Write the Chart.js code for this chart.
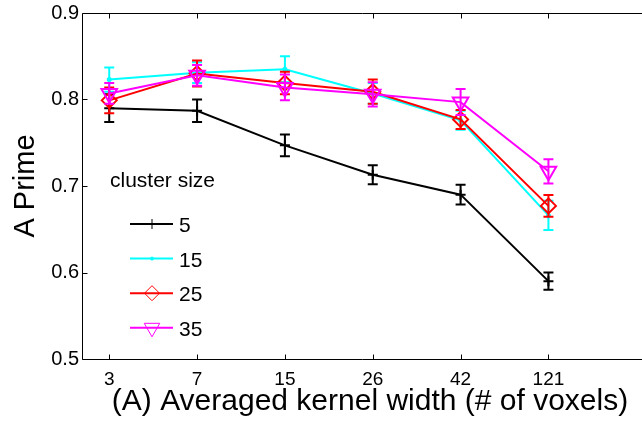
<!DOCTYPE html>
<html>
<head>
<meta charset="utf-8">
<script src="https://cdn.jsdelivr.net/npm/chart.js@4.4.1/dist/chart.umd.min.js"></script>
<style>
html, body { margin: 0; padding: 0; background: #fff; }
</style>
</head>
<body>
<canvas id="myChart" width="642" height="424"></canvas>
<script>
var kernel_labels = ['3', '7', '15', '26', '42', '121'];
var cluster_sizes = ['5', '15', '25', '35'];
var series_colors = ['#000000', '#00ffff', '#ff0000', '#ff00ff'];
var x_title = '(A) Averaged kernel width (# of voxels)';

var aprime_5 = [0.790, 0.787, 0.747, 0.713, 0.690, 0.590];
var err_5 = [0.016, 0.013, 0.0125, 0.011, 0.0115, 0.010];
var aprime_15 = [0.823, 0.831, 0.835, 0.807, 0.776, 0.666];
var err_15 = [0.014, 0.012, 0.015, 0.012, 0.011, 0.017];
var aprime_25 = [0.799, 0.830, 0.819, 0.809, 0.777, 0.677];
var err_25 = [0.015, 0.015, 0.013, 0.014, 0.011, 0.0125];
var aprime_35 = [0.807, 0.828, 0.814, 0.806, 0.797, 0.717];
var err_35 = [0.012, 0.012, 0.015, 0.014, 0.015, 0.014];

var y_ticks = [0.5, 0.6, 0.7, 0.8, 0.9];

var FONT = "'Liberation Sans', Arial, Helvetica, sans-serif";

function toPoints(vals) {
    return vals.map(function (v, i) { return { x: i + 1, y: v }; });
}

// frame with inward ticks, matlab style (no right edge, plot runs off the canvas)
const framePlugin = {
    id: 'frame',
    beforeDatasetsDraw(chart) {
        const { ctx, chartArea: a, scales: { x, y } } = chart;
        const L = Math.round(a.left) + 0.5, B = Math.round(a.bottom) + 0.5, T = Math.round(a.top) + 0.5;
        ctx.save();
        ctx.strokeStyle = '#000';
        ctx.lineWidth = 1;
        ctx.beginPath();
        ctx.moveTo(L, T); ctx.lineTo(L, B);
        ctx.moveTo(L, B); ctx.lineTo(chart.width, B);
        ctx.moveTo(L, T); ctx.lineTo(chart.width, T);
        x.ticks.forEach(function (t) {
            const px = Math.round(x.getPixelForValue(t.value)) + 0.5;
            ctx.moveTo(px, B); ctx.lineTo(px, B - 5);
            ctx.moveTo(px, T); ctx.lineTo(px, T + 5);
        });
        y.ticks.forEach(function (t) {
            const py = Math.round(y.getPixelForValue(t.value)) + 0.5;
            ctx.moveTo(L, py); ctx.lineTo(L + 5, py);
        });
        ctx.stroke();
        // x label, centred like the matlab axes box (which runs past the canvas)
        ctx.fillStyle = '#000';
        ctx.font = '30px ' + FONT;
        ctx.textAlign = 'center';
        ctx.textBaseline = 'middle';
        ctx.fillText(x_title, 370, 402);
        ctx.restore();
    }
};

const errorBarPlugin = {
    id: 'errbars',
    afterDatasetDraw(chart, args) {
        const ds = chart.data.datasets[args.index];
        if (!ds.errors) return;
        const { ctx, scales: { x, y } } = chart;
        ctx.save();
        ctx.strokeStyle = ds.borderColor;
        ctx.lineWidth = 2;
        ds.data.forEach(function (p, i) {
            const e = ds.errors[i];
            const px = x.getPixelForValue(p.x);
            const top = y.getPixelForValue(p.y + e);
            const bot = y.getPixelForValue(p.y - e);
            ctx.beginPath();
            ctx.moveTo(px, top); ctx.lineTo(px, bot);
            ctx.moveTo(px - 5, top); ctx.lineTo(px + 5, top);
            ctx.moveTo(px - 5, bot); ctx.lineTo(px + 5, bot);
            ctx.stroke();
        });
        ctx.restore();
    }
};

const legendPlugin = {
    id: 'clusterLegend',
    afterDraw(chart) {
        const ctx = chart.ctx;
        ctx.save();
        ctx.fillStyle = '#000';
        ctx.font = '21px ' + FONT;
        ctx.textBaseline = 'alphabetic';
        ctx.textAlign = 'left';
        ctx.fillText('cluster size', 110, 187);
        chart.data.datasets.forEach(function (ds, i) {
            const ly = 224 + i * 34.6;
            ctx.strokeStyle = ds.borderColor;
            ctx.lineWidth = 2;
            ctx.beginPath();
            ctx.moveTo(130, ly); ctx.lineTo(173, ly);
            ctx.stroke();
            ctx.lineWidth = 1;
            ctx.fillStyle = ds.pointBackgroundColor;
            Chart.helpers.drawPoint(ctx, {
                pointStyle: ds.pointStyle,
                rotation: ds.pointRotation || 0,
                radius: ds.pointRadius,
                borderWidth: 1
            }, 152, ly);
            ctx.fillStyle = '#000';
            ctx.fillText(ds.label, 179, ly + 8);
        });
        ctx.restore();
    }
};

const datasets = [
    { label: cluster_sizes[0], data: toPoints(aprime_5), errors: err_5, pointStyle: 'cross', pointRadius: 5, order: 3 },
    { label: cluster_sizes[1], data: toPoints(aprime_15), errors: err_15, pointStyle: 'circle', pointRadius: 1.5, order: 2 },
    { label: cluster_sizes[2], data: toPoints(aprime_25), errors: err_25, pointStyle: 'rectRot', pointRadius: 7.5, order: 1 },
    { label: cluster_sizes[3], data: toPoints(aprime_35), errors: err_35, pointStyle: 'triangle', pointRotation: 180, pointRadius: 9, order: 0 }
];
datasets.forEach(function (ds, i) {
    ds.borderColor = series_colors[i];
    ds.backgroundColor = series_colors[i];
    ds.pointBorderColor = series_colors[i];
    ds.pointBackgroundColor = ds.pointStyle === 'circle' ? series_colors[i] : 'rgba(0,0,0,0)';
    ds.borderWidth = 2;
    ds.pointBorderWidth = 2;
    ds.tension = 0;
    ds.fill = false;
});

const ctx = document.getElementById('myChart');
new Chart(ctx, {
    type: 'line',
    data: { datasets: datasets },
    options: {
        responsive: false,
        animation: false,
        devicePixelRatio: 1,
        layout: { padding: { top: 13, right: 0, left: 0, bottom: 0 } },
        plugins: { legend: { display: false }, tooltip: { enabled: false } },
        scales: {
            x: {
                type: 'linear',
                min: 0.69,
                max: 6.94,
                grid: { display: false },
                border: { display: false },
                afterBuildTicks: function (scale) {
                    scale.ticks = kernel_labels.map(function (l, i) { return { value: i + 1 }; });
                },
                afterFit: function (scale) { scale.height = 65; },
                ticks: {
                    color: '#000',
                    padding: 1,
                    maxRotation: 0,
                    autoSkip: false,
                    font: { family: FONT, size: 19 },
                    callback: function (v) { return kernel_labels[v - 1]; }
                },
                title: { display: false }
            },
            y: {
                min: 0.5,
                max: 0.9,
                grid: { display: false },
                border: { display: false },
                afterBuildTicks: function (scale) {
                    scale.ticks = y_ticks.map(function (v) { return { value: v }; });
                },
                afterFit: function (scale) { scale.width = 82; },
                ticks: {
                    color: '#000',
                    padding: -5,
                    font: { family: FONT, size: 20 },
                    callback: function (v) { return v.toFixed(1); }
                },
                title: {
                    display: true,
                    text: 'A Prime',
                    color: '#000',
                    padding: { top: 9, bottom: 0 },
                    font: { family: FONT, size: 29 }
                }
            }
        }
    },
    plugins: [framePlugin, errorBarPlugin, legendPlugin]
});
</script>
</body>
</html>
